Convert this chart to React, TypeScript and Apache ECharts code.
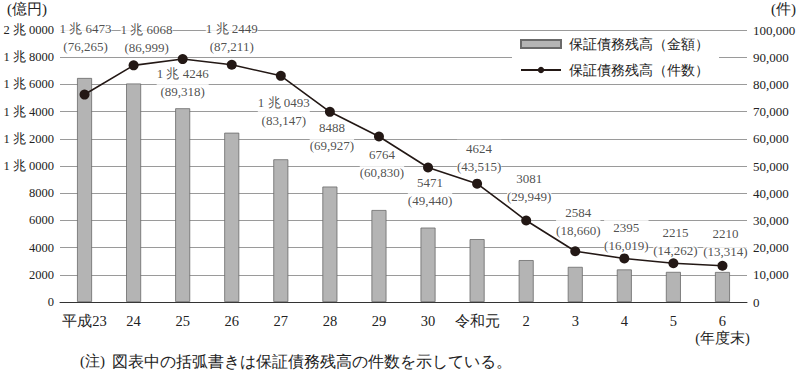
import React, { useEffect, useRef } from "react";
import * as echarts from "echarts";

const categories = ["平成23", "24", "25", "26", "27", "28", "29", "30", "令和元", "2", "3", "4", "5", "6"];
const amounts = [16473, 16068, 14246, 12449, 10493, 8488, 6764, 5471, 4624, 3081, 2584, 2395, 2215, 2210];
const counts = [76265, 86999, 89318, 87211, 83147, 69927, 60830, 49440, 43515, 29949, 18660, 16019, 14262, 13314];
const labelOffsets = [
  [1, -57], [13, -27], [0, 23], [0, -27], [3, 36], [2, 25], [3, 27],
  [2, 24], [2, -26], [3, -33], [3, -30], [2, -22], [2, -22], [3, -23],
];
const seriesNames = ["保証債務残高（金額）", "保証債務残高（件数）"];
const leftAxisName = "(億円)";
const rightAxisName = "(件)";
const lastSuffix = "(年度末)";
const noteHead = "(注)";
const noteBody = "図表中の括弧書きは保証債務残高の件数を示している。";

const FONT = "Liberation Serif";
const INK = "#231815";
const TEXT = "#222";

function fmtAmount(v: number): string {
  if (v >= 10000) {
    return `${Math.floor(v / 10000)} 兆 ${String(v % 10000).padStart(4, "0")}`;
  }
  return String(v);
}
function fmtCount(v: number): string {
  return v.toLocaleString("en-US");
}

export default function App() {
  const ref = useRef<HTMLDivElement>(null);
  useEffect(() => {
    document.body.style.margin = "0";
    document.body.style.overflow = "hidden";
    if (!ref.current) return;
    const chart = echarts.init(ref.current, undefined, { renderer: "svg" });
    chart.setOption({
      animation: false,
      backgroundColor: "#fff",
      textStyle: { fontFamily: FONT, color: TEXT },
      grid: { left: 60, right: 53, top: 30, bottom: 75, containLabel: false },
      legend: {
        orient: "vertical",
        left: 512,
        top: 33,
        itemWidth: 40,
        itemHeight: 8,
        itemGap: 12,
        padding: [4, 10, 4, 8],
        backgroundColor: "#fff",
        textStyle: { fontFamily: FONT, fontSize: 13.5, color: TEXT, padding: [0, 0, 0, 3] },
        data: [
          { name: seriesNames[0], icon: "rect" },
          { name: seriesNames[1] },
        ],
      },
      xAxis: {
        type: "category",
        data: categories,
        axisLine: { lineStyle: { color: "#333", width: 1 } },
        axisTick: { show: false },
        axisLabel: {
          interval: 0,
          fontFamily: FONT,
          fontSize: 14.5,
          color: TEXT,
          margin: 10,
          lineHeight: 17,
          formatter: (v: string, i: number) => (i === categories.length - 1 ? `${v}\n${lastSuffix}` : v),
        },
      },
      yAxis: [
        {
          type: "value",
          min: 0,
          max: 20000,
          interval: 2000,
          axisLine: { show: false },
          axisTick: { show: false },
          axisLabel: { fontFamily: FONT, fontSize: 12.5, color: TEXT, margin: 6, formatter: (v: number) => fmtAmount(v) },
          splitLine: { show: true, lineStyle: { color: "#9a9a9a", width: 1 } },
        },
        {
          type: "value",
          min: 0,
          max: 100000,
          interval: 10000,
          axisLine: { show: false },
          axisTick: { show: false },
          axisLabel: { fontFamily: FONT, fontSize: 13, color: TEXT, margin: 6, formatter: (v: number) => fmtCount(v) },
          splitLine: { show: false },
        },
      ],
      series: [
        {
          name: seriesNames[0],
          type: "bar",
          yAxisIndex: 0,
          data: amounts,
          barWidth: 15,
          itemStyle: { color: "#b4b4b4", borderColor: "#6a6a6a", borderWidth: 0.8 },
          z: 2,
        },
        {
          name: "labels",
          type: "scatter",
          yAxisIndex: 1,
          data: counts.map((c, i) => ({ value: c, label: { offset: labelOffsets[i] } })),
          symbolSize: 1,
          itemStyle: { color: "rgba(0,0,0,0)" },
          silent: true,
          z: 2.5,
          label: {
            show: true,
            position: "inside",
            fontFamily: FONT,
            fontSize: 13,
            lineHeight: 18,
            color: TEXT,
            align: "center",
            verticalAlign: "middle",
            backgroundColor: "#fff",
            padding: [0, 0],
            formatter: (p: any) => `${fmtAmount(amounts[p.dataIndex])}\n(${fmtCount(counts[p.dataIndex])})`,
          },
        },
        {
          name: seriesNames[1],
          type: "line",
          yAxisIndex: 1,
          data: counts,
          symbol: "circle",
          symbolSize: 10,
          lineStyle: { color: INK, width: 1.6 },
          itemStyle: { color: INK },
          z: 3,
        },
      ],
      graphic: [
        {
          type: "text",
          left: 7,
          top: 1,
          style: { text: leftAxisName, fontFamily: FONT, fontSize: 15, fill: TEXT },
        },
        {
          type: "text",
          right: 4,
          top: 1,
          style: { text: rightAxisName, fontFamily: FONT, fontSize: 15, fill: TEXT },
        },
        {
          type: "text",
          left: 80,
          top: 353,
          style: { text: noteHead, fontFamily: FONT, fontSize: 15, fill: TEXT },
        },
        {
          type: "text",
          left: 112,
          top: 353,
          style: { text: noteBody, fontFamily: FONT, fontSize: 15.5, fill: TEXT },
        },
      ],
    });
    return () => chart.dispose();
  }, []);
  return <div ref={ref} style={{ width: 800, height: 377 }} />;
}
